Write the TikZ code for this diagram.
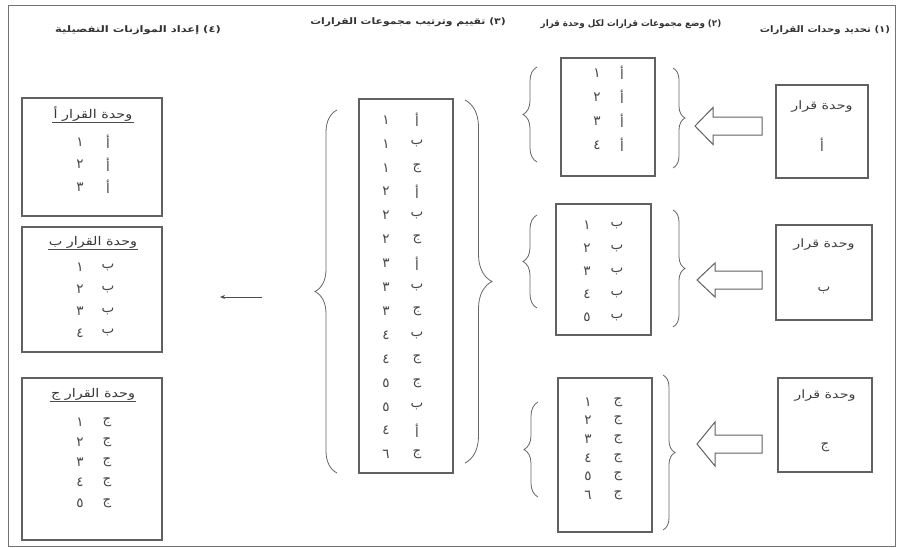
\documentclass[tikz,border=0pt]{standalone}
\usepackage{fontspec}
\usetikzlibrary{decorations.pathreplacing,arrows.meta}
\newfontfamily\ar[Script=Arabic]{DejaVu Sans}
\TeXXeTstate=1
\newcommand\AR[1]{{\ar\beginR #1\endR}}

\begin{document}
\begin{tikzpicture}[x=1pt,y=-1pt,
  frame/.style={draw=black!55,line width=0.8pt},
  box/.style={draw=black!62,line width=1.2pt,inner sep=0pt},
  hdr/.style={font=\ar\bfseries\fontsize{9}{11}\selectfont,text=black!80,inner sep=0pt},
  lbl/.style={font=\ar\fontsize{13.5}{15}\selectfont,text=black!72,inner sep=0pt},
  unit/.style={font=\ar\fontsize{11.5}{13}\selectfont,text=black!75,inner sep=0pt},
  ttl/.style={font=\ar\fontsize{12}{14}\selectfont,text=black!78,inner sep=1pt},
  brc/.style={draw=black!60,line width=0.8pt,decorate,decoration={brace,amplitude=#1}},
  hollow/.style={draw=black!62,line width=1pt,fill=white},
  thin/.style={draw=black!70,line width=0.8pt}]
\useasboundingbox (0,0) rectangle (901,547);
\fill[white] (0,0) rectangle (901,547);
\draw[frame] (8,5) rectangle (895,546);

% column headings
\node[hdr] (h1) at (825,30) {\scalebox{1.13}[1]{\AR{(١) تحديد وحدات القرارات}}};
\node[hdr] (h2) at (631,24) {\scalebox{0.97}[1]{\AR{(٢) وضع مجموعات قرارات لكل وحدة قرار}}};
\node[hdr] (h3) at (408,22) {\scalebox{1.2}[1]{\AR{(٣) تقييم وترتيب مجموعات القرارات}}};
\node[hdr] (h4) at (138,30) {\scalebox{1.28}[1]{\AR{(٤) إعداد الموازنات التفصيلية}}};

% (1) decision units
\node[box,minimum width=92,minimum height=93] (uA) at (822,131.5) {};
\node[box,minimum width=96,minimum height=95] (uB) at (824,272.5) {};
\node[box,minimum width=94,minimum height=94] (uC) at (825,425) {};
\node[unit] (uAt) at (822,107) {\scalebox{1.25}[1]{\AR{وحدة قرار}}};
\node[lbl] (uAl) at (822,145) {\AR{أ}};
\node[unit] (uBt) at (824,245) {\scalebox{1.25}[1]{\AR{وحدة قرار}}};
\node[lbl] (uBl) at (824,290) {\AR{ب}};
\node[unit] (uCt) at (825,396) {\scalebox{1.25}[1]{\AR{وحدة قرار}}};
\node[lbl] (uCl) at (825,447) {\AR{ج}};

% hollow arrows from each unit towards its packages
\coordinate (aAh) at (695,126);
\coordinate (aBh) at (697,280);
\coordinate (aCh) at (697,444);
\draw[hollow] (aAh) -- ++(18,-18.5) -- ++(0,9.5) -- ++(49,0) -- ++(0,18) -- ++(-49,0) -- ++(0,9.5) -- cycle;
\draw[hollow] (aBh) -- ++(18,-17) -- ++(0,8) -- ++(47,0) -- ++(0,18) -- ++(-47,0) -- ++(0,8) -- cycle;
\draw[hollow] (aCh) -- ++(18,-22) -- ++(0,13) -- ++(47,0) -- ++(0,18) -- ++(-47,0) -- ++(0,13) -- cycle;

% (2) decision packages of each unit
\node[box,minimum width=94,minimum height=118] (pA) at (608,117) {};
\node[box,minimum width=95,minimum height=131] (pB) at (603.5,269.5) {};
\node[box,minimum width=94,minimum height=154] (pC) at (605,455) {};
\foreach \n [count=\i] in {١,٢,٣,٤} {
  \node[lbl] (pAn\i) at (597,{49+24*\i}) {\AR{\n}};
  \node[lbl] (pAl\i) at (622,{49+24*\i}) {\AR{أ}};
}
\foreach \n [count=\i] in {١,٢,٣,٤,٥} {
  \node[lbl] (pBn\i) at (587,{202+23*\i}) {\AR{\n}};
  \node[lbl] (pBl\i) at (617,{202+23*\i}) {\AR{ب}};
}
\foreach \n [count=\i] in {١,٢,٣,٤,٥,٦} {
  \node[lbl] (pCn\i) at (588,{383.5+18.6*\i}) {\AR{\n}};
  \node[lbl] (pCl\i) at (618,{383.5+18.6*\i}) {\AR{ج}};
}
\draw[brc=14] (537,162) -- (537,67);
\draw[brc=12] (673,68) -- (673,168);
\draw[brc=14] (537,308) -- (537,215);
\draw[brc=12] (673,210) -- (673,327);
\draw[brc=14] (538,497) -- (538,402);
\draw[brc=12] (663,375) -- (663,530);

% (3) ranked packages
\node[box,minimum width=94,minimum height=374] (rk) at (406,286) {};
\foreach \l/\n [count=\i] in {أ/١,ب/١,ج/١,أ/٢,ب/٢,ج/٢,أ/٣,ب/٣,ج/٣,ب/٤,ج/٤,ج/٥,ب/٥,أ/٤,ج/٦} {
  \node[lbl] (rn\i) at (386,{96.1+23.9*\i}) {\AR{\n}};
  \node[lbl] (rl\i) at (417,{96.1+23.9*\i}) {\AR{\l}};
}
\draw[brc=22] (337,473) -- (337,110);
\draw[brc=27] (465,100) -- (465,463);

% arrow towards the detailed budgets
\coordinate (sS) at (262,297);
\coordinate (sE) at (220,297);
\draw[thin,-{Stealth[length=5pt,width=4pt]}] (sS) -- (sE);

% (4) detailed budgets
\node[box,minimum width=140,minimum height=118] (bA) at (92,157) {};
\node[box,minimum width=140,minimum height=125] (bB) at (92,289.5) {};
\node[box,minimum width=140,minimum height=162] (bC) at (92,459) {};
\node[ttl] (bAt) at (93,114) {\scalebox{1.2}[1]{\AR{وحدة القرار أ}}};
\node[ttl] (bBt) at (93,242) {\scalebox{1.2}[1]{\AR{وحدة القرار ب}}};
\node[ttl] (bCt) at (93,394) {\scalebox{1.2}[1]{\AR{وحدة القرار ج}}};
\foreach \t in {bAt,bBt,bCt} \draw[thin,line width=0.7pt] (\t.south west) -- (\t.south east);
\foreach \n [count=\i] in {١,٢,٣} {
  \node[lbl] (bAn\i) at (80,{119.5+22.5*\i}) {\AR{\n}};
  \node[lbl] (bAl\i) at (108,{119.5+22.5*\i}) {\AR{أ}};
}
\foreach \n [count=\i] in {١,٢,٣,٤} {
  \node[lbl] (bBn\i) at (80,{246+21.7*\i}) {\AR{\n}};
  \node[lbl] (bBl\i) at (108,{246+21.7*\i}) {\AR{ب}};
}
\foreach \n [count=\i] in {١,٢,٣,٤,٥} {
  \node[lbl] (bCn\i) at (80,{401.5+20.3*\i}) {\AR{\n}};
  \node[lbl] (bCl\i) at (107,{401.5+20.3*\i}) {\AR{ج}};
}
\end{tikzpicture}
\end{document}
